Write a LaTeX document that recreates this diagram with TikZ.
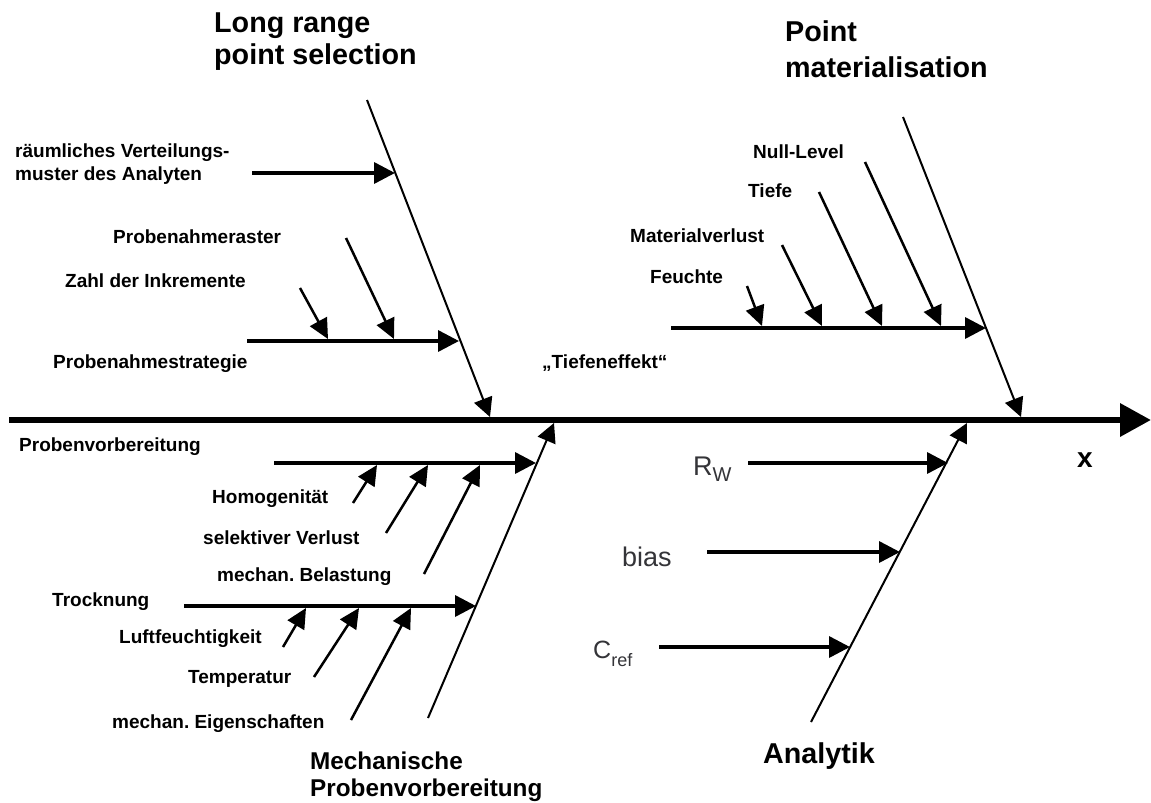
\documentclass[tikz,border=0pt]{standalone}
\usepackage{fontspec}
\setmainfont{Liberation Sans}
\usetikzlibrary{arrows.meta}
\definecolor{symgray}{RGB}{52,52,56}
\begin{document}
\begin{tikzpicture}[x=1pt,y=-1pt,
  lbl/.style={anchor=base west,inner sep=0pt,font=\bfseries\fontsize{19}{19}\selectfont},
  ttl/.style={anchor=base west,inner sep=0pt,font=\bfseries\fontsize{28.7}{28.7}\selectfont},
  ttlsmall/.style={anchor=base west,inner sep=0pt,font=\bfseries\fontsize{24.3}{24.3}\selectfont},
  sym/.style={anchor=base west,inner sep=0pt,text=symgray,font=\fontsize{27}{27}\selectfont},
  spine/.style={line width=6.5pt,-{Triangle[length=31pt,width=32pt]}},
  bone/.style={line width=2pt,-{Triangle[length=19pt,width=19pt]}},
  branch/.style={line width=3.5pt,-{Triangle[length=21pt,width=21pt]}},
  twig/.style={line width=2.5pt,-{Triangle[length=20pt,width=19pt]}}]
\useasboundingbox (0,0) rectangle (1151,803);
\fill[white] (0,0) rectangle (1151,803);

% main spine
\coordinate (s0) at (9,420);
\coordinate (s1) at (1151,420);
\draw[spine] (s0) -- (s1);
\node[anchor=base west,inner sep=0pt,font=\bfseries\fontsize{28}{28}\selectfont] (xlab) at (1077,467) {x};

% ---- Long range point selection ----
\coordinate (lrA) at (367,100);
\coordinate (lrB) at (490,417);
\draw[bone] (lrA) -- (lrB);
\node[ttl] (lr1) at (214,32) {Long range};
\node[ttl] (lr2) at (214,64) {point selection};

\coordinate (vA) at (252,173);
\coordinate (vB) at (395,173);
\draw[branch] (vA) -- (vB);
\node[lbl] (v1) at (15,157) {räumliches Verteilungs-};
\node[lbl] (v2) at (15,180) {muster des Analyten};

\coordinate (stA) at (247,341);
\coordinate (stB) at (459,341);
\draw[branch] (stA) -- (stB);
\node[lbl] (st) at (53,368) {Probenahmestrategie};

\coordinate (raA) at (346,238);
\coordinate (raB) at (394,339);
\draw[twig] (raA) -- (raB);
\node[lbl] (ra) at (113,243) {Probenahmeraster};

\coordinate (inA) at (300,288);
\coordinate (inB) at (328,339);
\draw[twig] (inA) -- (inB);
\node[lbl] (in) at (65,287) {Zahl der Inkremente};

% ---- Point materialisation ----
\coordinate (pmA) at (903,117);
\coordinate (pmB) at (1021,417);
\draw[bone] (pmA) -- (pmB);
\node[ttl] (pm1) at (785,41) {Point};
\node[ttl] (pm2) at (785,77) {materialisation};

\coordinate (teA) at (671,328);
\coordinate (teB) at (986,328);
\draw[branch] (teA) -- (teB);
\node[lbl] (te) at (542,368) {„Tiefeneffekt“};

\coordinate (nlA) at (865,162);
\coordinate (nlB) at (941,326);
\draw[twig] (nlA) -- (nlB);
\node[lbl] (nl) at (753,158) {Null-Level};

\coordinate (tfA) at (819,192);
\coordinate (tfB) at (882,326);
\draw[twig] (tfA) -- (tfB);
\node[lbl] (tf) at (748,197) {Tiefe};

\coordinate (mvA) at (782,245);
\coordinate (mvB) at (822,326);
\draw[twig] (mvA) -- (mvB);
\node[lbl] (mv) at (630,242) {Materialverlust};

\coordinate (fuA) at (747,286);
\coordinate (fuB) at (762,326);
\draw[twig] (fuA) -- (fuB);
\node[lbl] (fu) at (650,283) {Feuchte};

% ---- Mechanische Probenvorbereitung ----
\coordinate (mpA) at (428,718);
\coordinate (mpB) at (554,423);
\draw[bone] (mpA) -- (mpB);
\node[ttlsmall] (mp1) at (310,769) {Mechanische};
\node[ttlsmall] (mp2) at (310,796) {Probenvorbereitung};

\coordinate (pvA) at (274,463);
\coordinate (pvB) at (536,463);
\draw[branch] (pvA) -- (pvB);
\node[lbl] (pv) at (19,451) {Probenvorbereitung};

\coordinate (hoA) at (353,503);
\coordinate (hoB) at (377,465);
\draw[twig] (hoA) -- (hoB);
\node[lbl] (ho) at (212,503) {Homogenität};

\coordinate (seA) at (386,533);
\coordinate (seB) at (428,465);
\draw[twig] (seA) -- (seB);
\node[lbl] (se) at (203,544) {selektiver Verlust};

\coordinate (beA) at (424,574);
\coordinate (beB) at (480,465);
\draw[twig] (beA) -- (beB);
\node[lbl] (be) at (217,581) {mechan.\ Belastung};

\coordinate (trA) at (184,606);
\coordinate (trB) at (476,606);
\draw[branch] (trA) -- (trB);
\node[lbl] (tr) at (52,606) {Trocknung};

\coordinate (lfA) at (283,647);
\coordinate (lfB) at (306,608);
\draw[twig] (lfA) -- (lfB);
\node[lbl] (lf) at (119,643) {Luftfeuchtigkeit};

\coordinate (tpA) at (314,677);
\coordinate (tpB) at (359,608);
\draw[twig] (tpA) -- (tpB);
\node[lbl] (tp) at (188,683) {Temperatur};

\coordinate (eiA) at (351,720);
\coordinate (eiB) at (411,608);
\draw[twig] (eiA) -- (eiB);
\node[lbl] (ei) at (112,728) {mechan.\ Eigenschaften};

% ---- Analytik ----
\coordinate (anA) at (811,722);
\coordinate (anB) at (967,423);
\draw[bone] (anA) -- (anB);
\node[ttl] (an) at (763,763) {Analytik};

\coordinate (rwA) at (748,463);
\coordinate (rwB) at (948,463);
\draw[branch] (rwA) -- (rwB);
\node[sym] (rw) at (693,475) {R\raisebox{-6pt}{\fontsize{20}{20}\selectfont W}};

\coordinate (biA) at (707,552);
\coordinate (biB) at (900,552);
\draw[branch] (biA) -- (biB);
\node[sym] (bi) at (622,566) {bias};

\coordinate (crA) at (659,647);
\coordinate (crB) at (850,647);
\draw[branch] (crA) -- (crB);
\node[sym,font=\fontsize{25}{25}\selectfont] (cr) at (593,658) {C\raisebox{-8pt}{\fontsize{18}{18}\selectfont ref}};
\end{tikzpicture}
\end{document}
